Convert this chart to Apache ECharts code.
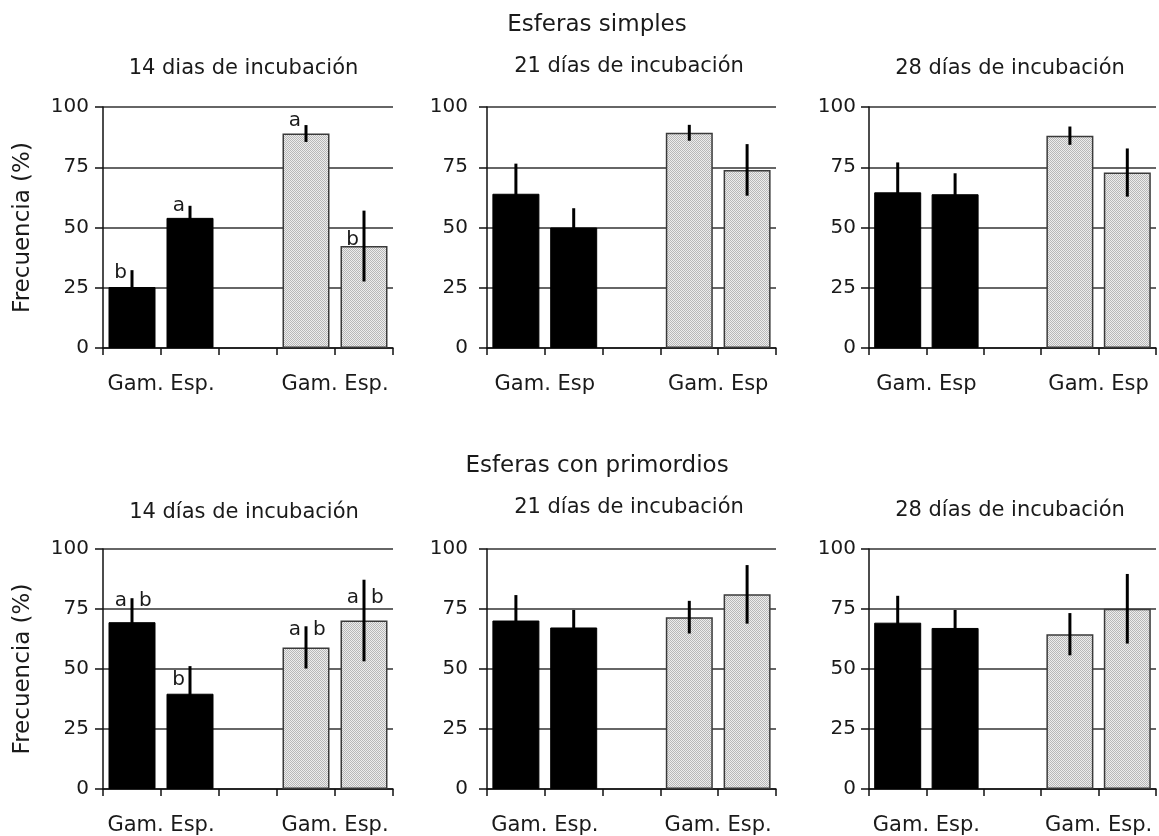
<!DOCTYPE html>
<html>
<head>
<meta charset="utf-8">
<script src="https://cdn.jsdelivr.net/npm/echarts@6/dist/echarts.min.js"></script>
<style>
html,body{margin:0;padding:0;background:#fff;}
#chart{width:1159px;height:836px;}
</style>
</head>
<body>
<div id="chart"></div>
<script>
// ---------- data ----------
const categories = ['Gam.', 'Esp.', '', 'Gam.', 'Esp.'];
const yMin = 0, yMax = 100, yStep = 25;

const rowTitles = ['Esferas simples', 'Esferas con primordios'];
const panelTitles = [
  '14 dias de incubación', '21 días de incubación', '28 días de incubación',
  '14 días de incubación', '21 días de incubación', '28 días de incubación'
];
const pairLabels = ['Gam. Esp.', 'Gam. Esp', 'Gam. Esp', 'Gam. Esp.', 'Gam. Esp.', 'Gam. Esp.'];

const simples14Mean = [25.3, 54, null, 89, 42.3];
const simples14Err  = [7, 5, null, 3.5, 14.7];
const simples21Mean = [64, 50, null, 89.3, 73.9];
const simples21Err  = [12.5, 8, null, 3.3, 10.7];
const simples28Mean = [64.6, 63.8, null, 88.1, 72.8];
const simples28Err  = [12.4, 8.7, null, 3.8, 10];

const primordios14Mean = [69.5, 39.7, null, 59, 70.2];
const primordios14Err  = [10, 11.5, null, 8.8, 17];
const primordios21Mean = [70.2, 67.3, null, 71.6, 81.1];
const primordios21Err  = [10.6, 7.3, null, 6.8, 12.2];
const primordios28Mean = [69.3, 67.1, null, 64.5, 75.1];
const primordios28Err  = [11.2, 7.5, null, 8.8, 14.5];

// significance letters (left / right of the error bar) and their baseline value
const simples14LettersLeft  = ['b', 'a', '', 'a', 'b'];
const simples14LettersRight = ['', '', '', '', ''];
const simples14LetterPos    = [28.2, 56, null, 91.3, 41.9];
const primordios14LettersLeft  = ['a', 'b', '', 'a', 'a'];
const primordios14LettersRight = ['b', '', '', 'b', 'b'];
const primordios14LetterPos    = [75.4, 42.7, null, 63.4, 76.7];

// ---------- layout ----------
const FONT = "'DejaVu Sans', Verdana, sans-serif";
const TXT = '#1a1a1a';
const colLeft = [103, 487, 869];
const colWidth = [290, 289, 289];
const rowTop = [107, 549];
const gridH = 241;
const yLabelMargin = [14, 19, 13];

const panels = [
  {mean: simples14Mean, err: simples14Err, L: simples14LettersLeft, R: simples14LettersRight, pos: simples14LetterPos},
  {mean: simples21Mean, err: simples21Err},
  {mean: simples28Mean, err: simples28Err},
  {mean: primordios14Mean, err: primordios14Err, L: primordios14LettersLeft, R: primordios14LettersRight, pos: primordios14LetterPos},
  {mean: primordios21Mean, err: primordios21Err},
  {mean: primordios28Mean, err: primordios28Err}
];

// dotted gray pattern
const pc = document.createElement('canvas');
pc.width = 2; pc.height = 2;
const pctx = pc.getContext('2d');
pctx.fillStyle = '#ededed'; pctx.fillRect(0, 0, 2, 2);
pctx.fillStyle = '#b8b8b8'; pctx.fillRect(0, 0, 1, 1); pctx.fillRect(1, 1, 1, 1);
const grayPattern = {image: pc, repeat: 'repeat'};

const blackStyle = {color: '#000', borderColor: '#000', borderWidth: 1};
const grayStyle = {color: grayPattern, borderColor: '#3a3a3a', borderWidth: 1.5};

const grid = [], xAxis = [], yAxis = [], series = [];
panels.forEach((p, i) => {
  const row = Math.floor(i / 3), col = i % 3;
  grid.push({left: colLeft[col], top: rowTop[row], width: colWidth[col], height: gridH});
  xAxis.push({
    type: 'category', gridIndex: i, data: categories, boundaryGap: true,
    axisLine: {show: true, lineStyle: {color: '#111', width: 1.5}},
    axisTick: {show: true, length: 7, lineStyle: {color: '#111', width: 1.5}},
    axisLabel: {show: false}, splitLine: {show: false}
  });
  xAxis.push({
    type: 'value', gridIndex: i, min: 0, max: categories.length, interval: 1, position: 'bottom',
    axisLine: {show: false}, axisTick: {show: false}, splitLine: {show: false},
    axisLabel: {
      show: true, margin: 26, fontSize: 21, fontFamily: FONT, color: TXT,
      formatter: v => (v === 1 || v === 4) ? pairLabels[i] : ''
    }
  });
  yAxis.push({
    type: 'value', gridIndex: i, min: yMin, max: yMax, interval: yStep,
    axisLine: {show: true, lineStyle: {color: '#111', width: 1.5}},
    axisTick: {show: true, length: 8, lineStyle: {color: '#111', width: 1.5}},
    splitLine: {show: true, lineStyle: {color: '#333', width: 1.5}},
    axisLabel: {fontSize: 20, fontFamily: FONT, color: TXT, margin: yLabelMargin[col]},
    name: col === 0 ? 'Frecuencia (%)' : '',
    nameLocation: 'middle', nameGap: 68,
    nameTextStyle: {fontSize: 23, fontFamily: FONT, color: TXT}
  });
  series.push({
    type: 'bar', xAxisIndex: 2 * i, yAxisIndex: i, barWidth: 47, z: 2,
    data: p.mean.map((v, k) => v == null ? null : {value: v, itemStyle: k < 2 ? blackStyle : grayStyle})
  });
  const edata = [];
  p.mean.forEach((v, k) => { if (v != null) edata.push([k, v, p.err[k]]); });
  series.push({
    type: 'custom', xAxisIndex: 2 * i, yAxisIndex: i, z: 5, silent: true,
    data: edata,
    renderItem: (params, api) => {
      const k = api.value(0), v = api.value(1), e = api.value(2);
      const a = api.coord([k, v + e]), b = api.coord([k, v - e]);
      const children = [{
        type: 'line', shape: {x1: a[0], y1: a[1], x2: b[0], y2: b[1]},
        style: {stroke: '#000', lineWidth: 3}
      }];
      if (p.L && p.pos[k] != null) {
        const q = api.coord([k, p.pos[k]]);
        if (p.L[k]) children.push({type: 'text', x: q[0] - 5, y: q[1] - 7,
          style: {text: p.L[k], font: '20px ' + FONT, fill: TXT, align: 'right', verticalAlign: 'middle'}});
        if (p.R[k]) children.push({type: 'text', x: q[0] + 7, y: q[1] - 7,
          style: {text: p.R[k], font: '20px ' + FONT, fill: TXT, align: 'left', verticalAlign: 'middle'}});
      }
      return {type: 'group', children: children};
    }
  });
});

const titlePos = [[597, 25], [597, 466]];
const subPos = [[243.5, 69], [629, 67], [1010, 69], [244, 513], [629, 508], [1010, 511]];
const graphic = [];
rowTitles.forEach((t, r) => graphic.push({type: 'text', x: titlePos[r][0], y: titlePos[r][1],
  style: {text: t, font: '23px ' + FONT, fill: TXT, align: 'center', verticalAlign: 'middle'}}));
panelTitles.forEach((t, i) => graphic.push({type: 'text', x: subPos[i][0], y: subPos[i][1],
  style: {text: t, font: '21px ' + FONT, fill: TXT, align: 'center', verticalAlign: 'middle'}}));

const chart = echarts.init(document.getElementById('chart'), null, {renderer: 'canvas'});
chart.setOption({
  animation: false,
  backgroundColor: '#fff',
  textStyle: {fontFamily: FONT},
  grid, xAxis, yAxis, series, graphic
});
</script>
</body>
</html>
